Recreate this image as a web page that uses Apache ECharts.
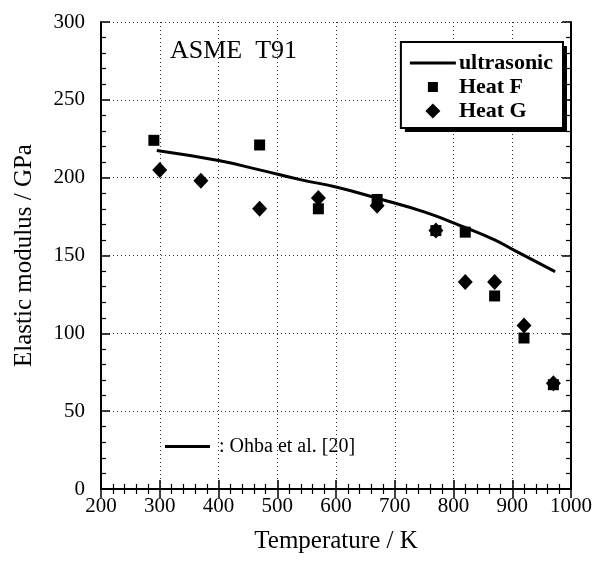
<!DOCTYPE html>
<html><head><meta charset="utf-8">
<script src="https://cdn.jsdelivr.net/npm/echarts@6/dist/echarts.min.js"></script>
<style>html,body{margin:0;padding:0;background:#fff}#c{width:596px;height:563px}</style>
</head><body><div id="c"></div>
<script>
const heatF = [[290,224],[470,221],[570,180],[670,186],[770,166],[820,165],[870,124],[920,97],[970,67]];
const heatG = [[300,205],[370,198],[470,180],[570,187],[670,182],[770,166],[820,133],[870,133],[920,105],[970,68]];
const ultrasonic = [[295,217.5],[400,211],[470,205],[541,198.6],[600,194],[670,186.8],[750,178],[823,167.5],[870,160],[902,153.6],[973,139.6]];
const xTicks = [200,300,400,500,600,700,800,900,1000];
const yTicks = [0,50,100,150,200,250,300];

const FONT = '"Liberation Serif", "DejaVu Serif", serif';
const chart = echarts.init(document.getElementById('c'), null, {renderer:'canvas'});
const axisLine = {show:true, lineStyle:{color:'#000', width:2}};
const tick = {show:true, inside:true, length:9, lineStyle:{color:'#000', width:1.5}};
const minor = {show:true, splitNumber:5, length:5, lineStyle:{color:'#000', width:1.2}};
const split = {show:true, lineStyle:{color:'#333', width:1, type:[1,3]}};
const fmt = v => String(v);
const legendItems = [
  {name:'ultrasonic', icon:'path://M0,0L46,0L46,3L0,3Z'},
  {name:'Heat F', icon:'path://M0,0M15,15M2.5,2.5L12.5,2.5L12.5,12.5L2.5,12.5Z'},
  {name:'Heat G', icon:'path://M7.5,0L15,7.5L7.5,15L0,7.5Z'}
];
const legendBase = {
  orient:'vertical', padding:[10,10,6,9], itemGap:2, itemWidth:46, itemHeight:15, symbolKeepAspect:true,
  textStyle:{fontFamily:FONT, fontSize:22, lineHeight:22, fontWeight:'bold', color:'#000', padding:[0,0,0,-2]},
  data:legendItems, selectedMode:false
};
chart.setOption({
  animation:false,
  grid:{left:101, right:25, top:22, bottom:74},
  xAxis:[{
    type:'value', min:xTicks[0], max:xTicks[xTicks.length-1], interval:100,
    name:'Temperature / K', nameLocation:'middle', nameGap:40,
    nameTextStyle:{fontFamily:FONT, fontSize:25, color:'#000'},
    axisLine, axisTick:tick, minorTick:minor, splitLine:split,
    axisLabel:{fontFamily:FONT, fontSize:21, color:'#000', margin:7, formatter:fmt}
  },{
    type:'value', position:'top', min:xTicks[0], max:xTicks[xTicks.length-1], interval:100,
    axisLine, axisTick:tick, minorTick:minor, splitLine:{show:false}, axisLabel:{show:false}
  }],
  yAxis:[{
    type:'value', min:yTicks[0], max:yTicks[yTicks.length-1], interval:50,
    name:'Elastic modulus / GPa', nameLocation:'middle', nameGap:64,
    nameTextStyle:{fontFamily:FONT, fontSize:25, color:'#000'},
    axisLine, axisTick:tick, minorTick:minor, splitLine:split,
    axisLabel:{fontFamily:FONT, fontSize:21, color:'#000', margin:16, formatter:fmt}
  },{
    type:'value', position:'right', min:yTicks[0], max:yTicks[yTicks.length-1], interval:50,
    axisLine, axisTick:tick, minorTick:minor, splitLine:{show:false}, axisLabel:{show:false}
  }],
  legend:[
    Object.assign({}, legendBase, {right:29, top:46, z:3, backgroundColor:'#000', borderWidth:0}),
    Object.assign({}, legendBase, {right:33, top:42, z:6, backgroundColor:'#fff', borderColor:'#000', borderWidth:2})
  ],
  series:[
    {name:'ultrasonic', type:'line', data:ultrasonic, smooth:true, showSymbol:false, symbol:'none',
     lineStyle:{color:'#000', width:3}, itemStyle:{color:'#000'}, z:2},
    {name:'Heat F', type:'scatter', data:heatF, symbol:'rect', symbolSize:11, itemStyle:{color:'#000', opacity:1}, z:3},
    {name:'Heat G', type:'scatter', data:heatG, symbol:'diamond', symbolSize:[15,16], itemStyle:{color:'#000', opacity:1}, z:4}
  ],
  graphic:[
    {type:'text', left:170, top:38, style:{text:'ASME  T91', fontFamily:FONT, fontSize:26, fill:'#000'}},
    {type:'line', shape:{x1:165, y1:446.5, x2:210, y2:446.5}, style:{stroke:'#000', lineWidth:3}},
    {type:'text', left:216, top:435, style:{text:': Ohba et al. [20]', fontFamily:FONT, fontSize:20, fill:'#000', backgroundColor:'#fff', padding:[2,3,2,3]}}
  ]
});
</script></body></html>
